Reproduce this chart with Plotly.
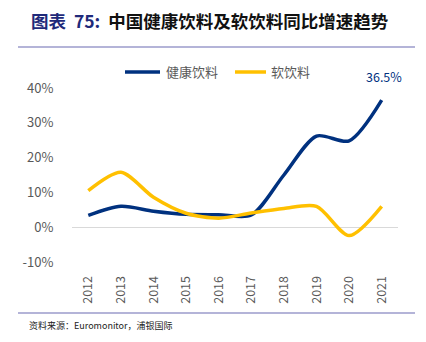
import plotly.graph_objects as go

years = ["2012", "2013", "2014", "2015", "2016", "2017", "2018", "2019", "2020", "2021"]
health = [3.4, 6.0, 4.6, 3.7, 3.6, 3.5, 15.0, 26.2, 24.8, 36.5]
soft = [10.5, 15.8, 8.6, 4.0, 2.6, 4.1, 5.4, 6.0, -2.4, 6.0]
yticks = [-10, 0, 10, 20, 30, 40]
ytick_labels = ["-10%", "0%", "10%", "20%", "30%", "40%"]
series_names = ["健康饮料", "软饮料"]

BLUE = "#00317F"
YELLOW = "#FFC000"
FONT = "Noto Sans CJK SC"

W, H = 426, 342
L, R, T, B = 72, 398, 88, 262


def px(x):
    return (x - L) / (R - L)


def py(y):
    return (B - y) / (B - T)


fig = go.Figure()
fig.add_trace(go.Scatter(x=years, y=health, mode="lines", name=series_names[0],
                         line=dict(color=BLUE, width=3.5, shape="spline", smoothing=0.8)))
fig.add_trace(go.Scatter(x=years, y=soft, mode="lines", name=series_names[1],
                         line=dict(color=YELLOW, width=3.5, shape="spline", smoothing=0.8)))

fig.update_layout(
    width=W, height=H,
    margin=dict(l=L, r=W - R, t=T, b=H - B, pad=0),
    plot_bgcolor="white", paper_bgcolor="white",
    font=dict(family=FONT, color="#595959", size=12),
    showlegend=False,
    xaxis=dict(type="category", range=[-0.5, 9.5], tickangle=-90, showgrid=False,
               showline=False, ticks="outside", ticklen=8, tickcolor="rgba(0,0,0,0)",
               tickfont=dict(size=12.5, color="#595959")),
    yaxis=dict(range=[-10, 40], tickvals=yticks, ticktext=ytick_labels, showgrid=False,
               zeroline=True, zerolinecolor="#D9D9D9", zerolinewidth=1,
               showline=False, ticks="outside", ticklen=15, tickcolor="rgba(0,0,0,0)",
               tickfont=dict(size=13, color="#595959")),
)

# legend drawn manually
legend_items = [(series_names[0], BLUE, 125, 160, 164), (series_names[1], YELLOW, 235, 266, 269)]
for name, color, x0, x1, xt in legend_items:
    fig.add_shape(type="line", xref="paper", yref="paper", x0=px(x0), x1=px(x1), y0=py(72), y1=py(72),
                  line=dict(color=color, width=3.5))
    fig.add_annotation(xref="paper", yref="paper", x=px(xt), y=py(72), xanchor="left", yanchor="middle",
                       text=name, showarrow=False, font=dict(size=13, color="#595959", family=FONT))

fig.add_annotation(xref="paper", yref="paper", x=px(384), y=py(76), xanchor="center", yanchor="middle",
                   text="36.5%", showarrow=False,
                   font=dict(size=12.5, color=BLUE, family=FONT))

fig.add_annotation(xref="paper", yref="paper", x=px(29), y=py(20), xanchor="left", yanchor="middle",
                   text="<b><span style='color:#1F2A7A'>图表  75:</span>  中国健康饮料及软饮料同比增速趋势</b>",
                   showarrow=False, font=dict(size=17.5, color="#111111", family=FONT))

fig.add_shape(type="line", xref="paper", yref="paper", x0=px(18), x1=px(415), y0=py(47), y1=py(47),
              line=dict(color="#9B9BCB", width=1.5))
fig.add_shape(type="line", xref="paper", yref="paper", x0=px(18), x1=px(415), y0=py(313), y1=py(313),
              line=dict(color="#9B9BCB", width=1.5))

fig.add_annotation(xref="paper", yref="paper", x=px(27), y=py(325), xanchor="left", yanchor="middle",
                   text="资料来源：Euromonitor，浦银国际", showarrow=False,
                   font=dict(size=9, color="#222222", family=FONT))

fig.write_html("out.html")
